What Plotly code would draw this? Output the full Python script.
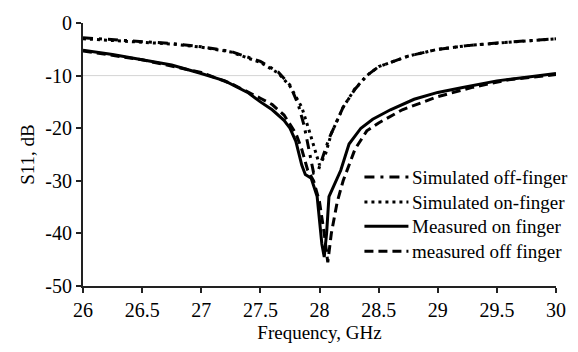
import plotly.graph_objects as go

# Frequency sweeps (GHz) and S11 (dB) for each configuration
sim_off_f = [26.0, 26.25, 26.5, 26.75, 27.0, 27.25, 27.5, 27.65, 27.75, 27.82, 27.87, 27.91, 27.95, 27.99,
             28.03, 28.08, 28.13, 28.2, 28.3, 28.4, 28.5, 28.75, 29.0, 29.25, 29.5, 29.75, 30.0]
sim_off_s11 = [-2.8, -3.2, -3.5, -3.9, -4.5, -5.4, -7.3, -9.3, -11.8, -15.5, -19.5, -24.0, -28.5, -28.0,
               -25.5, -22.0, -19.5, -16.0, -12.6, -10.0, -8.3, -6.3, -5.0, -4.3, -3.8, -3.4, -3.0]

sim_on_f = [26.0, 26.25, 26.5, 26.75, 27.0, 27.25, 27.5, 27.65, 27.75, 27.85, 27.92, 27.97, 28.0,
            28.05, 28.1, 28.2, 28.3, 28.4, 28.5, 28.75, 29.0, 29.25, 29.5, 29.75, 30.0]
sim_on_s11 = [-3.0, -3.3, -3.6, -4.0, -4.6, -5.5, -7.5, -9.5, -12.0, -16.0, -21.0, -25.0, -27.0,
              -25.0, -21.0, -16.0, -12.5, -10.0, -8.3, -6.3, -5.0, -4.3, -3.8, -3.4, -3.0]

meas_on_f = [26.0, 26.25, 26.5, 26.75, 27.0, 27.2, 27.4, 27.5, 27.6, 27.7, 27.75, 27.8, 27.85, 27.88,
             27.93, 27.98, 28.02, 28.04, 28.06, 28.08, 28.12, 28.18, 28.25, 28.35, 28.45, 28.6, 28.8,
             29.0, 29.2, 29.5, 29.75, 30.0]
meas_on_s11 = [-5.2, -6.0, -7.0, -8.0, -9.6, -11.0, -13.3, -15.0, -16.5, -18.5, -20.0, -22.5, -27.0, -28.8,
               -29.5, -33.0, -42.0, -44.5, -40.0, -33.0, -31.0, -28.0, -23.0, -20.0, -18.3, -16.5, -14.5,
               -13.2, -12.3, -11.0, -10.3, -9.6]

meas_off_f = [26.0, 26.5, 27.0, 27.25, 27.5, 27.6, 27.7, 27.8, 27.85, 27.9, 27.95, 28.0, 28.04, 28.07,
              28.1, 28.15, 28.2, 28.3, 28.4, 28.5, 28.7, 29.0, 29.3, 29.6, 30.0]
meas_off_s11 = [-5.3, -7.0, -9.4, -11.5, -14.3, -15.5, -17.5, -21.0, -24.0, -28.0, -30.0, -34.0, -40.0, -45.5,
                -40.0, -34.0, -30.0, -24.0, -20.5, -19.0, -16.5, -14.0, -12.2, -10.8, -9.8]

series_names = ["Simulated off-finger", "Simulated on-finger", "Measured on finger", "measured off finger"]
series_f = [sim_off_f, sim_on_f, meas_on_f, meas_off_f]
series_s11 = [sim_off_s11, sim_on_s11, meas_on_s11, meas_off_s11]
series_dash = ["10px,6px,3px,6px", "3px,4px", "solid", "9px,5px"]

x_ticks = [26, 26.5, 27, 27.5, 28, 28.5, 29, 29.5, 30]
y_ticks = [-50, -40, -30, -20, -10, 0]

FONT = "Liberation Serif"
TXT = dict(family=FONT, size=19, color="black")
TICK = dict(family=FONT, size=20, color="black")

fig = go.Figure()

for name, f, s, dash in zip(series_names, series_f, series_s11, series_dash):
    fig.add_trace(go.Scatter(
        x=f, y=s, mode="lines", name=name, showlegend=False,
        line=dict(color="black", width=3, dash=dash),
    ))

# -10 dB reference line
fig.add_hline(y=-10, line=dict(color="#d4d4d4", width=1), layer="below")

# Legend drawn as line samples plus labels
leg_y = [0.414, 0.319, 0.227, 0.132]
for name, dash, yy in zip(series_names, series_dash, leg_y):
    fig.add_shape(type="line", xref="paper", yref="paper",
                  x0=0.595, x1=0.688, y0=yy, y1=yy,
                  line=dict(color="black", width=3, dash=dash))
    fig.add_annotation(xref="paper", yref="paper", x=0.692, y=yy,
                       text=name, showarrow=False, xanchor="left", yanchor="middle",
                       font=TXT)

fig.update_layout(
    width=578, height=352,
    margin=dict(l=83, r=21, t=22, b=57),
    paper_bgcolor="white", plot_bgcolor="white",
    font=TXT,
    xaxis=dict(
        range=[26, 30], tickvals=x_ticks, ticktext=[f"{v:g}" for v in x_ticks],
        tickfont=TICK,
        showgrid=False, zeroline=False,
        showline=True, linecolor="#222", linewidth=2,
        ticks="outside", ticklen=5, tickwidth=2, tickcolor="#222",
        title=dict(text="Frequency, GHz", font=TXT, standoff=6),
    ),
    yaxis=dict(
        range=[-50, 0], tickvals=y_ticks, ticktext=[f"{v:d}" for v in y_ticks],
        tickfont=TICK,
        showgrid=False, zeroline=False,
        showline=True, linecolor="#222", linewidth=2,
        ticks="outside", ticklen=5, tickwidth=2, tickcolor="#222",
        title=dict(text="S11, dB", font=TXT, standoff=6),
    ),
)

fig.write_html("out.html")
